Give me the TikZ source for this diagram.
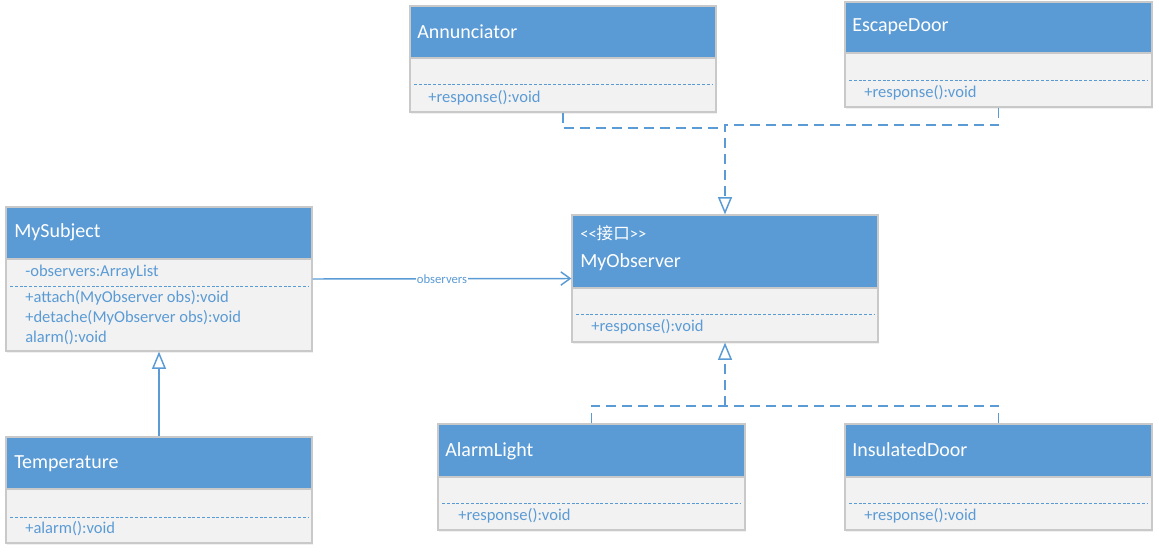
\documentclass[tikz,border=0pt]{standalone}
\usepackage{fontspec}
\setmainfont{Carlito}
\newfontfamily\cjk{Noto Sans CJK SC}
\usetikzlibrary{fit,arrows.meta,shadows}
\definecolor{hdr}{HTML}{5B9BD5}
\definecolor{bdy}{HTML}{F2F2F2}
\definecolor{brd}{HTML}{C9C9C9}
\definecolor{txt}{HTML}{5B9BD5}
\tikzset{
  classbody/.style={draw=brd, fill=bdy, line width=0.9pt, inner sep=0pt,
    drop shadow={shadow xshift=0.8pt, shadow yshift=-1.5pt, opacity=0.12}},
  classhead/.style={draw=brd, fill=hdr, line width=0.9pt, inner sep=0pt},
  ctitle/.style={anchor=west, text=white, inner sep=0pt, font=\fontsize{15}{17}\selectfont},
  member/.style={anchor=west, text=txt, inner sep=0pt, font=\fontsize{12.4}{14}\selectfont},
  sepline/.style={draw=txt, line width=0.6pt, dash pattern=on 2.2pt off 1.4pt},
  conn/.style={draw=hdr, line width=1.1pt},
  realize/.style={conn, dash pattern=on 7.5pt off 4.5pt},
  hollow/.style={-{Triangle[fill=white, width=10.5pt, length=13pt, line width=1.1pt]}},
  barb/.style={-{Straight Barb[width=10pt, length=7pt, line width=1.1pt]}},
  assoclabel/.style={fill=white, text=txt, inner sep=0.5pt, font=\fontsize{9.5}{11}\selectfont}
}
\begin{document}
\begin{tikzpicture}[x=0.75pt,y=-0.75pt]
\useasboundingbox (0,0) rectangle (1159,553);

% ---------- Annunciator ----------
\node[classbody, fit={(410,6) (716,112)}] (ann) {};
\node[classhead, fit={(410,6) (716,58)}] (annh) {};
\node[ctitle] (annt) at (417,32) {Annunciator};
\draw[sepline] (414,84) -- (712,84);
\node[member] (annm) at (428,98) {+response():void};

% ---------- EscapeDoor ----------
\node[classbody, fit={(845,2) (1152,107)}] (esc) {};
\node[classhead, fit={(845,2) (1152,53)}] (esch) {};
\node[ctitle] (esct) at (852,27) {EscapeDoor};
\draw[sepline] (849,80) -- (1148,80);
\node[member] (escm) at (864,93) {+response():void};

% ---------- MyObserver ----------
\node[classbody, fit={(572,215) (878,342)}] (obs) {};
\node[classhead, fit={(572,215) (878,288)}] (obsh) {};
\node[anchor=west, text=white, inner sep=0pt, font=\fontsize{12.4}{14}\selectfont] (obss) at (580,233) {{<}{<}{\cjk 接口}{>}{>}};
\node[ctitle] (obst) at (580,262) {MyObserver};
\draw[sepline] (576,314) -- (874,314);
\node[member] (obsm) at (591,327) {+response():void};

% ---------- MySubject ----------
\node[classbody, fit={(6,207) (312,351)}] (subj) {};
\node[classhead, fit={(6,207) (312,259)}] (subjh) {};
\node[ctitle] (subjt) at (14,232) {MySubject};
\node[member] (subja) at (25,272) {-observers:ArrayList};
\draw[sepline] (10,286) -- (308,286);
\node[member] (subjm1) at (25,298) {+attach(MyObserver obs):void};
\node[member] (subjm2) at (25,318) {+detache(MyObserver obs):void};
\node[member] (subjm3) at (25,338) {alarm():void};

% ---------- Temperature ----------
\node[classbody, fit={(6,437) (312,543)}] (temp) {};
\node[classhead, fit={(6,437) (312,489)}] (temph) {};
\node[ctitle] (tempt) at (14,464) {Temperature};
\draw[sepline] (10,517) -- (308,517);
\node[member] (tempm) at (25,529) {+alarm():void};

% ---------- AlarmLight ----------
\node[classbody, fit={(438,424) (745,530)}] (al) {};
\node[classhead, fit={(438,424) (745,477)}] (alh) {};
\node[ctitle] (alt) at (445,451) {AlarmLight};
\draw[sepline] (442,503) -- (741,503);
\node[member] (alm) at (458,516) {+response():void};

% ---------- InsulatedDoor ----------
\node[classbody, fit={(845,424) (1152,530)}] (ins) {};
\node[classhead, fit={(845,424) (1152,477)}] (insh) {};
\node[ctitle] (inst) at (852,450) {InsulatedDoor};
\draw[sepline] (849,503) -- (1148,503);
\node[member] (insm) at (864,516) {+response():void};

% ---------- connectors ----------
\coordinate (jA) at (725,128);
\coordinate (jE) at (725,125);
\coordinate (jB) at (725,406);

\draw[realize] (ann.south) |- (jA);
\draw[realize, hollow] (esc.south) |- (jE) -- (obs.north);

\draw[realize, hollow] (jB) -- (obs.south);
\draw[realize] (al.north) |- (jB);
\draw[realize] (ins.north) |- (jB);

\draw[conn, hollow] (temp.north) -- (subj.south);

\draw[conn, barb] (subj.east) -- node[assoclabel] (obslabel) {observers} (obs.west);
\end{tikzpicture}
\end{document}
